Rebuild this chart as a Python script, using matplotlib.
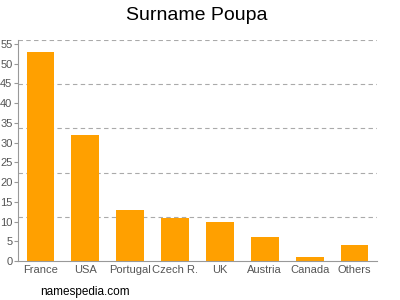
import matplotlib.pyplot as plt
import numpy as np

plt.rcParams['font.family'] = ['Liberation Sans', 'DejaVu Sans']

countries = ['France', 'USA', 'Portugal', 'Czech R.', 'UK', 'Austria', 'Canada', 'Others']
counts = [53, 32, 13, 11, 10, 6, 1, 4]
yticks = list(range(0, 56, 5))

fig = plt.figure(figsize=(4, 3), dpi=100)
ax = fig.add_axes([0.045, 0.13, 0.8975, 0.7367])

x = np.arange(len(countries))
# dashed grid every fifth of the axis range
for g in np.linspace(0, 56, 6)[1:]:
    ax.axhline(g, color='#aaaaaa', linestyle=(0, (4, 3)), linewidth=0.8, zorder=0)
ax.bar(x, counts, width=0.62, color='#ffa000', zorder=2)

ax.set_xlim(-0.5, len(countries) - 0.5)
ax.set_ylim(0, 56)
ax.set_xticks(x)
ax.set_xticklabels(countries)
ax.set_yticks(yticks)
ax.tick_params(axis='x', length=0, labelsize=8, labelcolor='#555555', pad=3)
ax.tick_params(axis='y', length=3, labelsize=8, labelcolor='#555555', color='#999999', pad=1)

for s in ['top', 'right']:
    ax.spines[s].set_visible(False)
for s in ['left', 'bottom']:
    ax.spines[s].set_color('#999999')
    ax.spines[s].set_linewidth(0.8)

fig.text(0.493, 0.948, 'Surname Poupa', ha='center', va='center', fontsize=14)
fig.text(0.1, 0.027, 'namespedia.com', ha='left', va='center', fontsize=8.5)

plt.savefig('out.png')
